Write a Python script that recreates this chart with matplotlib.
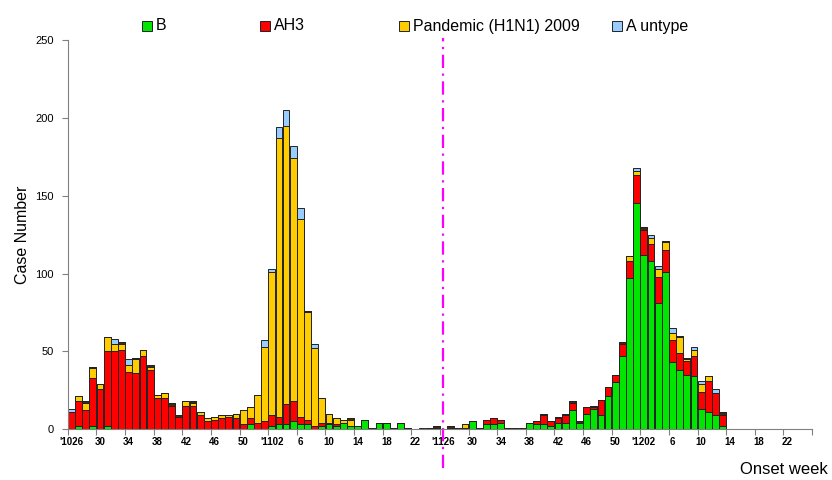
import numpy as np
import matplotlib
matplotlib.use("Agg")
import matplotlib.pyplot as plt
from matplotlib.patches import Rectangle

plt.rcParams['font.family'] = ['Liberation Sans', 'DejaVu Sans']

# --- weekly case counts, 2010 wk26 .. 2012 wk25 ---
b = [0, 2, 0, 2, 0, 2, 0, 0, 0, 0,
     0, 0, 0, 0, 0, 0, 0, 0, 0, 0,
     0, 0, 0, 0, 0, 3, 0, 0, 2, 3,
     3, 5, 3, 3, 0, 2, 3, 2, 4, 2,
     2, 6, 1, 4, 4, 1, 4, 1, 0, 0,
     0, 1, 0, 1, 1, 0, 5, 1, 3, 3,
     4, 0, 0, 0, 4, 3, 3, 2, 4, 4,
     12, 4, 10, 13, 9, 21, 30, 47, 97, 145,
     112, 108, 81, 101, 43, 38, 35, 34, 13, 11,
     9, 2, 0, 0, 0, 0, 0, 0, 0, 0,
     0, 0, 0, 0]
ah3 = [11, 16, 12, 31, 26, 48, 50, 51, 37, 36,
       47, 38, 20, 20, 15, 8, 15, 15, 9, 5,
       6, 7, 8, 7, 3, 4, 4, 5, 7, 5,
       13, 13, 5, 3, 2, 2, 1, 1, 0, 0,
       0, 0, 0, 0, 0, 0, 0, 0, 0, 0,
       0, 0, 0, 0, 0, 1, 0, 0, 3, 4,
       2, 0, 0, 0, 0, 2, 6, 3, 3, 5,
       5, 0, 4, 1, 10, 6, 5, 8, 11, 18,
       16, 11, 17, 14, 14, 11, 9, 13, 11, 20,
       14, 7, 0, 0, 0, 0, 0, 0, 0, 0,
       0, 0, 0, 0]
pdm = [0, 3, 5, 6, 3, 9, 5, 4, 4, 9,
       4, 2, 2, 3, 0, 0, 3, 2, 2, 2,
       2, 2, 1, 3, 9, 7, 18, 48, 92, 179,
       179, 156, 127, 69, 50, 16, 6, 4, 2, 4,
       0, 0, 0, 0, 0, 0, 0, 0, 0, 0,
       1, 0, 0, 0, 0, 2, 0, 0, 0, 0,
       0, 0, 0, 0, 0, 0, 0, 0, 0, 0,
       0, 0, 0, 0, 0, 0, 0, 0, 3, 3,
       0, 4, 5, 5, 5, 10, 1, 4, 5, 3,
       0, 0, 0, 0, 0, 0, 0, 0, 0, 0,
       0, 0, 0, 0]
other = [0, 0, 1, 1, 0, 0, 0, 1, 0, 1,
         0, 1, 0, 0, 2, 1, 0, 1, 0, 0,
         0, 0, 0, 0, 0, 0, 0, 0, 0, 0,
         0, 0, 0, 1, 0, 0, 0, 0, 0, 1,
         0, 0, 0, 0, 0, 0, 0, 0, 0, 0,
         0, 1, 0, 1, 0, 0, 0, 0, 0, 0,
         0, 1, 1, 1, 0, 0, 1, 0, 1, 1,
         1, 1, 0, 1, 0, 0, 0, 1, 0, 0,
         2, 0, 0, 1, 0, 1, 1, 0, 0, 0,
         0, 2, 0, 0, 0, 0, 0, 0, 0, 0,
         0, 0, 0, 0]
untyped = [2, 0, 0, 0, 0, 0, 3, 0, 4, 0,
           0, 0, 0, 0, 0, 0, 0, 0, 0, 0,
           0, 0, 0, 0, 0, 0, 0, 4, 2, 7,
           10, 8, 7, 0, 3, 0, 0, 0, 0, 0,
           0, 0, 0, 0, 0, 0, 0, 0, 0, 1,
           0, 0, 0, 0, 0, 0, 0, 0, 0, 0,
           0, 0, 0, 0, 0, 0, 0, 0, 0, 0,
           0, 0, 0, 0, 0, 0, 0, 0, 0, 2,
           0, 2, 2, 0, 3, 0, 0, 2, 2, 0,
           3, 0, 0, 0, 0, 0, 0, 0, 0, 0,
           0, 0, 0, 0]

week_labels = ["'1026", "30", "34", "38", "42", "46", "50", "'1102", "6", "10",
               "14", "18", "22", "'1126", "30", "34", "38", "42", "46", "50",
               "'1202", "6", "10", "14", "18", "22"]

series = [("B", b, '#00e600'),
          ("AH3", ah3, '#ff0000'),
          ("Pandemic (H1N1) 2009", pdm, '#ffcc00'),
          ("other", other, '#3f2a12'),
          ("A untype", untyped, '#99ccff')]

x = np.arange(len(b))

fig = plt.figure(figsize=(8.32, 4.8), dpi=100)
ax = fig.add_axes([0.0815, 0.106, 0.8945, 0.8105])

bottom = np.zeros(len(b))
for name, vals, col in series:
    vals = np.array(vals, dtype=float)
    ax.bar(x, vals, width=0.95, bottom=bottom, color=col,
           edgecolor='#222222', linewidth=0.7)
    bottom += vals

ax.set_xlim(-0.5, len(b) - 0.5)
ax.set_ylim(0, 250)
ax.set_yticks(range(0, 251, 50))

# ticks between categories, labels on category centres
ax.set_xticks(np.arange(0, len(b) + 1, 4) - 0.5)
ax.set_xticklabels([])
ax.set_xticks(np.arange(0, 101, 4), minor=True)
ax.set_xticklabels(week_labels, minor=True, fontsize=7, fontweight='bold')
ax.tick_params(axis='x', which='minor', length=0, pad=6)
ax.tick_params(axis='x', which='major', length=4, color='#808080', direction='out')
ax.tick_params(axis='y', length=4, color='#808080', labelsize=8, pad=6)

for s in ['top', 'right']:
    ax.spines[s].set_visible(False)
for s in ['left', 'bottom']:
    ax.spines[s].set_color('#808080')

ax.set_ylabel("Case Number", fontsize=11.5, labelpad=4)
fig.text(0.995, 0.022, "Onset week", fontsize=12, ha='right', va='center')

# season divider
ax.axvline(52, ymin=-0.1, ymax=1.005, color='#ff00ff', linewidth=1.6,
           linestyle=(0, (6, 2.5, 1, 2.5)), clip_on=False)

# legend
leg_x = [142, 260, 399, 612]
for (name, vals, col), lx in zip([series[0], series[1], series[2], series[4]], leg_x):
    fig.add_artist(Rectangle((lx / 832, (480 - 31) / 480), 10 / 832, 10 / 480,
                             transform=fig.transFigure, facecolor=col,
                             edgecolor='#222222', linewidth=0.7))
    fig.text((lx + 14) / 832, (480 - 26) / 480, name, fontsize=11.5,
             ha='left', va='center')

fig.savefig("out.png", dpi=100)
